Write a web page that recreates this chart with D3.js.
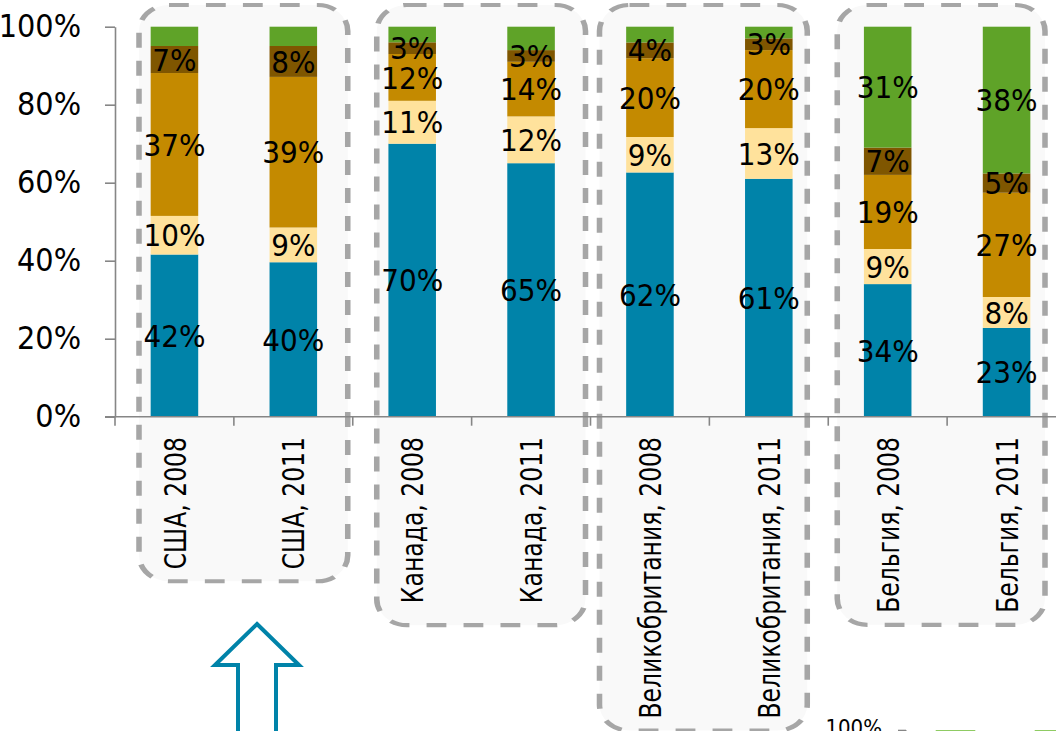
<!DOCTYPE html>
<html>
<head>
<meta charset="utf-8">
<script src="https://cdn.jsdelivr.net/npm/d3@7"></script>
<style>
	body { margin: 0; background: #fff; }
	svg { display: block; }
	text { font-family: 'DejaVu Sans Condensed', 'DejaVu Sans', sans-serif; fill: #000; }
	.cat { font-family: 'DejaVu Sans', sans-serif; }
</style>
</head>
<body>
<svg width="1056" height="731"></svg>
<script>
// data
const categories = ['США, 2008', 'США, 2011', 'Канада, 2008', 'Канада, 2011',
	'Великобритания, 2008', 'Великобритания, 2011', 'Бельгия, 2008', 'Бельгия, 2011']
const groups = ['США', 'Канада', 'Великобритания', 'Бельгия']
const blue   = [42, 40, 70, 65, 62, 61, 34, 23]
const yellow = [10,  9, 11, 12,  9, 13,  9,  8]
const orange = [37, 39, 12, 14, 20, 20, 19, 27]
const brown  = [ 7,  8,  3,  3,  4,  3,  7,  5]
const green  = [ 5,  5,  4,  6,  4,  3, 31, 38]
const yTicks = [0, 0.2, 0.4, 0.6, 0.8, 1]
// second chart, cut off at the bottom edge
const miniCats = ['a', 'b']
const miniTicks = [1]

const keys = ['blue', 'yellow', 'orange', 'brown', 'green']
const colors = {blue: '#0083a9', yellow: '#ffe29c', orange: '#c48a00', brown: '#7f5600', green: '#5fa328'}

let rows = categories.map((c, i) => ({
	cat: c, blue: blue[i], yellow: yellow[i], orange: orange[i], brown: brown[i], green: green[i]
}))

let svg = d3.select('svg')

let x = d3.scaleBand()
	.domain(categories)
	.range([115, 1066])
	.paddingInner(0.6)
	.paddingOuter(0.3)

let y = d3.scaleLinear()
	.domain([0, 1])
	.range([416.7, 26.7])

let step = x.step()
let slot = c => x(c) - step * 0.3

// dashed group panels (drawn stretched like the original)
let sx = 1.32
let panelInset = [[24, 5], [24, 5], [9, 21], [9, 21]]
let panelPad = [12, 22, 12, 12]
let panels = svg.append('g').attr('transform', `scale(${sx},1)`)

// category labels first, so panel heights can follow them
let catG = svg.append('g')
let catLabels = catG.selectAll('text')
	.data(categories).enter()
	.append('text')
	.attr('class', 'cat')
	.attr('font-size', 23.5)
	.attr('text-anchor', 'end')
	.attr('dy', '0.36em')
	.attr('transform', c => `translate(${x(c) + x.bandwidth() / 2},437) rotate(-90) scale(1,1.32)`)
	.text(c => c)

let labelLen = catLabels.nodes().map(n => n.getComputedTextLength())

groups.forEach((g, gi) => {
	let c0 = categories[gi * 2], c1 = categories[gi * 2 + 1]
	let x0 = slot(c0) + panelInset[gi][0]
	let x1 = slot(c1) + step - panelInset[gi][1]
	let bottom = 437 + Math.max(labelLen[gi * 2], labelLen[gi * 2 + 1]) + panelPad[gi]
	panels.append('rect')
		.attr('x', x0 / sx)
		.attr('y', 5)
		.attr('width', (x1 - x0) / sx)
		.attr('height', bottom - 5)
		.attr('rx', 30 / sx)
		.attr('ry', 26)
		.attr('fill', '#f9f9f9')
		.attr('stroke', '#a6a6a6')
		.attr('stroke-width', 4.2)
		.attr('stroke-dasharray', '15,13')
})
catG.raise()

// bars
let stacked = d3.stack().keys(keys).offset(d3.stackOffsetExpand)(rows)

let barG = svg.append('g')
barG.selectAll('g')
	.data(stacked).enter()
	.append('g')
	.attr('fill', d => colors[d.key])
	.selectAll('rect')
	.data(d => d).enter()
	.append('rect')
	.attr('x', d => x(d.data.cat))
	.attr('width', x.bandwidth())
	.attr('y', d => y(d[1]))
	.attr('height', d => y(d[0]) - y(d[1]))

let labG = svg.append('g')
stacked.forEach(s => {
	labG.selectAll(null)
		.data(s.filter(d => s.key !== 'green' || d.data.green >= 10)).enter()
		.append('text')
		.attr('font-size', 31)
		.attr('text-anchor', 'middle')
		.attr('dy', '0.36em')
		.attr('x', d => x(d.data.cat) + x.bandwidth() / 2)
		.attr('y', d => y((d[0] + d[1]) / 2))
		.text(d => d.data[s.key] + '%')
})

// axes
let axisColor = '#868686'
let yAxis = svg.append('g')
	.attr('transform', 'translate(115,0)')
	.call(d3.axisLeft(y).tickValues(yTicks).tickFormat(d3.format('.0%')).tickSize(10).tickSizeOuter(0).tickPadding(24))
yAxis.select('.domain').attr('stroke', axisColor).attr('stroke-width', 1.6)
yAxis.selectAll('.tick line').attr('stroke', axisColor).attr('stroke-width', 1.6)
yAxis.selectAll('.tick text')
	.attr('font-size', 32)
	.attr('font-family', "'DejaVu Sans Condensed', sans-serif")
	.attr('fill', '#000')

let xAxis = svg.append('g')
xAxis.append('line')
	.attr('x1', 105).attr('x2', 1066)
	.attr('y1', y(0)).attr('y2', y(0))
	.attr('stroke', axisColor).attr('stroke-width', 1.6)
xAxis.selectAll('line.tk')
	.data(categories.map(slot).concat([slot(categories[7]) + step])).enter()
	.append('line')
	.attr('class', 'tk')
	.attr('x1', d => d).attr('x2', d => d)
	.attr('y1', y(0)).attr('y2', y(0) + 9)
	.attr('stroke', axisColor).attr('stroke-width', 1.6)

// outline arrow under the USA panel
let ax = 257, ay = 624
let arrow = [[ax, ay], [ax + 42, ay + 41], [ax + 19, ay + 41], [ax + 19, 760],
	[ax - 19, 760], [ax - 19, ay + 41], [ax - 42, ay + 41]]
svg.append('path')
	.attr('d', d3.line()(arrow) + 'Z')
	.attr('fill', '#fff')
	.attr('stroke', '#0083a9')
	.attr('stroke-width', 4)

// top of the next chart
let xm = d3.scaleBand().domain(miniCats).range([906, 1104]).paddingInner(0.6).paddingOuter(0.3)
let ym = d3.scaleLinear().domain([0, 1]).range([1030, 730])
let mini = svg.append('g')
mini.append('g')
	.attr('transform', 'translate(906,0)')
	.call(d3.axisLeft(ym).tickValues(miniTicks).tickFormat(d3.format('.0%')).tickSize(8).tickSizeOuter(0).tickPadding(16))
	.call(g => g.select('.domain').attr('stroke', axisColor))
	.call(g => g.selectAll('.tick line').attr('stroke', axisColor).attr('stroke-width', 1.6))
	.call(g => g.selectAll('.tick text').attr('font-size', 22).attr('dy', '0.2em')
		.attr('font-family', "'DejaVu Sans Condensed', sans-serif").attr('fill', '#000'))
mini.selectAll('rect')
	.data(miniCats).enter()
	.append('rect')
	.attr('x', d => xm(d))
	.attr('width', xm.bandwidth())
	.attr('y', ym(1))
	.attr('height', ym(0.7) - ym(1))
	.attr('fill', '#8fcb63')
</script>
</body>
</html>
